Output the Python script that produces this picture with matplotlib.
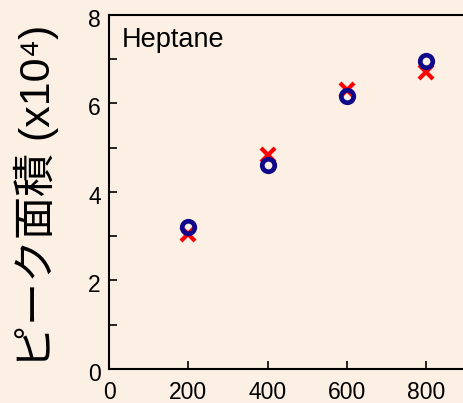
import matplotlib.pyplot as plt
import matplotlib.transforms as mtransforms
from matplotlib.ticker import MultipleLocator

# Heptane peak area vs. concentration
conc = [200, 400, 600, 800]
area_circle = [3.21, 4.61, 6.18, 6.97]
area_cross = [3.05, 4.83, 6.30, 6.71]
xtick_vals = [0, 200, 400, 600, 800]

bg = '#fcefe4'

fig = plt.figure(figsize=(4.64, 4.03), dpi=100, facecolor=bg)
ax = fig.add_axes([0.235, 0.0844, 0.8545, 0.8784], facecolor=bg)

ax.plot(conc, area_cross, linestyle='none', marker='x', color='#ff0000',
        markersize=10, markeredgewidth=3, zorder=3, clip_on=False)
ax.plot(conc, area_circle, linestyle='none', marker='o', markerfacecolor='none',
        markeredgecolor='#10088a', markersize=9, markeredgewidth=3.4, zorder=4, clip_on=False)

ax.set_xlim(0, 1000)
ax.set_ylim(0, 8)
ax.set_xticks(xtick_vals)
ax.yaxis.set_major_locator(MultipleLocator(2))
ax.yaxis.set_minor_locator(MultipleLocator(1))

for s in ax.spines.values():
    s.set_linewidth(1.5)

ax.tick_params(which='both', direction='in', length=5.5, width=1.2,
               top=False, right=False)
ax.tick_params(axis='x', pad=9)
ax.tick_params(axis='y', pad=6)
for lab in ax.get_xticklabels() + ax.get_yticklabels():
    lab.set_fontfamily('Liberation Sans')
    lab.set_fontsize(16.5)

# nudge y tick labels down a little
shift = mtransforms.ScaledTranslation(0, -2 / 72, fig.dpi_scale_trans)
for lab in ax.get_yticklabels():
    lab.set_transform(lab.get_transform() + shift)

ax.text(0.033, 0.909, 'Heptane', transform=ax.transAxes, fontsize=19.5,
        family='Liberation Sans', va='baseline', ha='left')

fig.text(0.078, 0.512, 'ピーク面積 (x10⁴)', rotation=90, ha='center', va='center',
         fontsize=31, family=['Liberation Sans', 'Noto Sans CJK JP', 'DejaVu Sans'])

fig.savefig('out.png', dpi=100, facecolor=bg)
